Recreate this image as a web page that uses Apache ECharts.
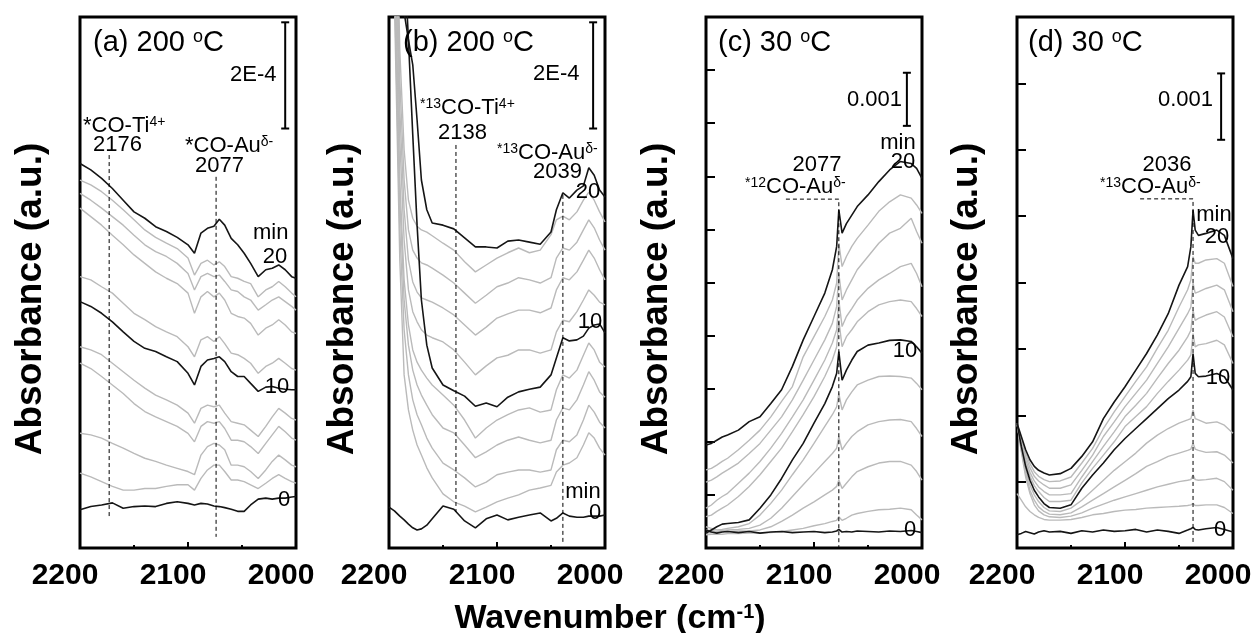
<!DOCTYPE html>
<html>
<head>
<meta charset="utf-8">
<script src="https://cdn.jsdelivr.net/npm/echarts/dist/echarts.min.js"></script>
<style>
html,body{margin:0;padding:0;background:#fff;}
#chart{width:1256px;height:633px;}
</style>
</head>
<body>
<div id="chart"></div>
<script>
// ---------------- DATA ----------------
// time labels of the spectra (min); black at 0, 10, 20
const timesMin = [0, 2, 4, 6, 8, 10, 12, 14, 16, 18, 20];
const xTickLabels = ['2200', '2100', '2000'];

// Panel (a) 200 oC  (absorbance in units of 1e-4)
const wnA = [2200,2190,2180,2170,2160,2150,2140,2130,2120,2110,2100,2094,2088,2082,2076,2071,2066,2060,2054,2048,2042,2035,2028,2022,2016,2010,2004,2000];
const a0  = [0.72,0.78,0.81,0.85,0.75,0.78,0.79,0.78,0.84,0.87,0.84,0.81,0.84,0.83,0.79,0.78,0.76,0.73,0.69,0.69,0.81,0.92,0.94,0.92,0.94,0.94,0.96,0.97];
const a2  = [1.41,1.34,1.25,1.16,1.09,1.09,1.12,1.12,1.16,1.19,1.19,1.09,1.31,1.47,1.56,1.56,1.44,1.28,1.28,1.25,1.19,1.12,1.22,1.31,1.38,1.31,1.25,1.22];
const a4  = [2.16,2.13,2.07,1.97,1.88,1.78,1.69,1.63,1.56,1.50,1.44,1.38,1.75,1.91,1.97,1.94,1.85,1.56,1.56,1.53,1.44,1.31,1.47,1.63,1.75,1.66,1.56,1.53];
const a6  = [3.48,3.38,3.23,3.07,2.91,2.72,2.57,2.47,2.38,2.29,2.16,2.00,2.29,2.38,2.35,2.38,2.25,2.03,2.03,2.00,1.91,1.78,1.97,2.13,2.29,2.19,2.07,2.03];
const a8  = [3.79,3.73,3.64,3.48,3.32,3.16,3.01,2.88,2.79,2.69,2.54,2.35,2.63,2.69,2.66,2.69,2.54,2.38,2.35,2.32,2.22,2.10,2.29,2.47,2.63,2.54,2.44,2.41];
const a10 = [4.64,4.55,4.42,4.26,4.07,3.89,3.76,3.70,3.60,3.51,3.29,3.07,3.42,3.54,3.57,3.60,3.51,3.32,3.23,3.23,3.10,2.95,3.03,3.04,3.01,2.99,2.98,2.98];
const a12 = [5.11,5.05,4.92,4.80,4.61,4.42,4.30,4.17,4.07,3.98,3.79,3.60,3.92,3.98,3.89,3.98,3.85,3.67,3.64,3.57,3.48,3.29,3.42,3.48,3.57,3.48,3.38,3.35];
const a14 = [6.40,6.24,6.08,5.89,5.71,5.52,5.36,5.20,5.08,4.98,4.80,4.42,4.73,4.83,4.73,4.80,4.67,4.42,4.36,4.33,4.23,4.01,4.14,4.20,4.30,4.20,4.07,4.04];
const a16 = [6.68,6.55,6.40,6.24,6.08,5.89,5.71,5.58,5.49,5.36,5.17,4.86,5.11,5.17,5.11,5.14,5.02,4.86,4.83,4.73,4.67,4.48,4.58,4.67,4.73,4.64,4.55,4.48];
const a18 = [6.93,6.84,6.71,6.55,6.37,6.18,5.99,5.85,5.74,5.64,5.46,5.14,5.36,5.42,5.33,5.39,5.30,5.11,5.08,5.02,4.98,4.73,4.86,4.92,5.02,4.92,4.80,4.73];
const a20 = [7.24,7.12,6.96,6.77,6.55,6.33,6.21,6.05,5.96,5.85,5.71,5.55,5.93,6.02,6.06,6.19,6.08,5.83,5.71,5.55,5.36,5.11,5.24,5.27,5.33,5.24,5.11,5.08];

// Panel (b) 200 oC  (units of 1e-4)
const wnB = [2200,2195,2190,2186,2182,2178,2174,2170,2165,2160,2150,2140,2130,2120,2110,2100,2090,2080,2070,2060,2050,2045,2039,2033,2026,2020,2015,2010,2005,2000];
const b0  = [0.77,0.70,0.60,0.53,0.45,0.38,0.34,0.36,0.43,0.55,0.79,0.73,0.51,0.38,0.55,0.62,0.53,0.58,0.62,0.66,0.51,0.56,0.66,0.60,0.58,0.58,0.60,0.60,0.60,0.62];
const b2  = [13.14,10.32,5.42,3.26,2.60,2.22,1.94,1.75,1.51,1.32,1.02,0.87,0.79,0.68,0.77,0.87,0.94,1.00,1.09,1.13,1.18,1.43,1.56,1.60,1.70,1.94,2.17,2.07,1.88,1.75];
const b4  = [14.09,10.70,5.99,4.11,3.26,2.79,2.51,2.32,2.07,1.88,1.60,1.47,1.32,1.15,1.24,1.38,1.43,1.47,1.47,1.43,1.47,1.85,2.03,2.00,2.13,2.41,2.69,2.56,2.37,2.26];
const b6  = [15.03,11.07,6.55,4.67,3.82,3.35,3.07,2.88,2.69,2.51,2.26,2.17,1.94,1.70,1.81,1.94,2.03,2.09,2.03,1.98,2.03,2.41,2.64,2.60,2.79,3.07,3.32,3.16,2.94,2.84];
const b8  = [15.97,11.45,6.93,5.05,4.20,3.73,3.50,3.35,3.20,3.07,2.88,2.69,2.41,2.07,2.26,2.41,2.51,2.60,2.64,2.56,2.60,2.98,3.26,3.20,3.35,3.63,3.86,3.73,3.50,3.41];
const b10 = [27.27,21.62,14.09,11.22,9.57,7.78,6.08,4.67,3.82,3.39,3.07,2.96,2.86,2.67,2.73,2.66,2.84,2.94,2.99,3.03,3.26,3.58,3.96,3.90,3.92,3.99,4.14,4.20,4.22,4.05];
const b12 = [16.91,12.20,7.68,5.80,4.86,4.45,4.26,4.11,4.01,3.96,3.88,3.73,3.50,3.26,3.43,3.58,3.63,3.73,3.73,3.67,3.73,4.07,4.29,4.26,4.45,4.67,4.86,4.76,4.63,4.58];
const b14 = [17.85,12.77,8.25,6.37,5.42,5.01,4.82,4.71,4.67,4.63,4.52,4.39,4.20,4.01,4.16,4.33,4.41,4.48,4.48,4.43,4.52,4.86,5.09,5.05,5.20,5.42,5.61,5.46,5.24,5.05];
const b16 = [18.79,13.33,8.81,6.93,5.99,5.61,5.46,5.37,5.33,5.27,5.14,4.99,4.80,4.61,4.76,4.92,4.99,5.09,5.05,4.99,5.09,5.46,5.65,5.61,5.76,5.99,6.18,6.03,5.80,5.61];
const b18 = [19.74,14.09,9.38,7.50,6.55,6.21,6.06,5.99,5.95,5.88,5.74,5.61,5.39,5.20,5.33,5.46,5.56,5.65,5.56,5.61,5.90,6.18,6.25,6.18,6.33,6.55,6.70,6.55,6.33,6.14];
const b20 = [13.14,12.01,10.88,10.09,9.57,9.10,8.06,6.93,6.37,6.12,6.08,6.01,5.84,5.67,5.67,5.65,5.78,5.80,5.76,5.72,5.95,6.37,6.69,6.59,6.74,6.82,7.16,7.02,6.74,6.61];

// Panel (c) 30 oC  (units of 1e-3)
const wnC = [2200,2195,2190,2185,2180,2170,2160,2150,2140,2130,2120,2110,2100,2090,2083,2079,2077,2074,2070,2065,2060,2050,2040,2030,2020,2010,2005,2000];
const c0  = [0.34,0.30,0.28,0.30,0.31,0.29,0.31,0.28,0.30,0.31,0.29,0.30,0.31,0.29,0.30,0.32,0.35,0.30,0.31,0.30,0.32,0.31,0.30,0.32,0.31,0.33,0.31,0.29];
const c2  = [0.25,0.26,0.26,0.26,0.27,0.27,0.28,0.28,0.29,0.31,0.34,0.37,0.42,0.46,0.50,0.52,0.59,0.52,0.56,0.62,0.65,0.69,0.72,0.73,0.75,0.72,0.62,0.53];
const c4  = [0.28,0.29,0.30,0.31,0.31,0.32,0.32,0.34,0.40,0.50,0.62,0.75,0.87,1.00,1.09,1.16,1.28,1.12,1.22,1.34,1.44,1.53,1.60,1.63,1.63,1.56,1.44,1.28];
const c6  = [0.34,0.33,0.31,0.33,0.34,0.35,0.37,0.43,0.56,0.75,0.97,1.19,1.41,1.63,1.78,1.88,2.10,1.85,1.97,2.10,2.19,2.32,2.38,2.41,2.42,2.38,2.25,2.10];
const c8  = [0.40,0.37,0.34,0.35,0.37,0.40,0.46,0.62,0.84,1.09,1.38,1.66,1.97,2.29,2.51,2.66,2.91,2.60,2.79,2.94,3.07,3.16,3.23,3.24,3.23,3.20,3.10,2.98];
const c10 = [0.28,0.34,0.40,0.45,0.46,0.48,0.53,0.75,1.00,1.31,1.66,1.97,2.35,2.72,3.04,3.29,3.70,3.16,3.35,3.54,3.70,3.82,3.86,3.91,3.92,3.89,3.79,3.67];
const c12 = [0.59,0.62,0.69,0.75,0.81,0.97,1.16,1.38,1.63,1.88,2.19,2.51,2.85,3.23,3.54,3.79,4.29,3.79,3.98,4.11,4.26,4.45,4.58,4.64,4.67,4.64,4.51,4.36];
const c14 = [0.75,0.81,0.90,0.97,1.03,1.22,1.41,1.63,1.88,2.16,2.47,2.79,3.16,3.54,3.86,4.11,4.67,4.17,4.36,4.51,4.67,4.89,5.05,5.17,5.30,5.36,5.17,4.92];
const c16 = [1.24,1.28,1.34,1.41,1.47,1.60,1.78,1.97,2.22,2.47,2.79,3.16,3.54,3.92,4.23,4.55,5.17,4.67,4.86,5.05,5.24,5.49,5.74,5.93,6.02,6.21,5.96,5.74];
const c18 = [1.47,1.50,1.56,1.63,1.69,1.85,2.03,2.22,2.47,2.76,3.04,3.60,3.98,4.36,4.67,4.99,5.74,5.30,5.49,5.68,5.83,6.08,6.34,6.52,6.65,6.59,6.46,6.30];
const c20 = [1.94,1.97,2.03,2.09,2.13,2.22,2.38,2.47,2.72,2.98,3.42,3.92,4.36,4.80,5.24,5.68,6.37,5.93,6.11,6.27,6.43,6.65,6.90,7.12,7.28,7.24,7.15,6.96];

// Panel (d) 30 oC  (units of 1e-3)
const wnD = [2200,2196,2192,2188,2184,2180,2175,2170,2160,2150,2140,2130,2120,2110,2100,2090,2080,2070,2060,2050,2042,2039,2037,2035,2032,2025,2015,2008,2000];
const d0  = [0.20,0.22,0.25,0.23,0.21,0.24,0.26,0.24,0.25,0.22,0.26,0.24,0.27,0.25,0.26,0.28,0.24,0.27,0.25,0.22,0.27,0.29,0.31,0.28,0.27,0.29,0.31,0.28,0.24];
const d2  = [0.82,0.72,0.62,0.55,0.50,0.46,0.43,0.42,0.42,0.43,0.46,0.50,0.52,0.55,0.57,0.58,0.60,0.61,0.62,0.63,0.64,0.65,0.67,0.64,0.64,0.65,0.65,0.61,0.52];
const d4  = [1.88,1.45,1.07,0.82,0.65,0.56,0.50,0.47,0.46,0.48,0.53,0.60,0.66,0.72,0.77,0.82,0.87,0.92,0.96,1.00,1.02,1.03,1.10,1.03,1.02,1.03,1.05,1.00,0.87];
const d6  = [1.88,1.48,1.12,0.87,0.72,0.62,0.55,0.51,0.50,0.53,0.62,0.72,0.82,0.92,1.02,1.12,1.23,1.30,1.38,1.43,1.47,1.49,1.58,1.49,1.47,1.44,1.45,1.40,1.28];
const d8  = [1.88,1.50,1.17,0.95,0.80,0.70,0.61,0.56,0.55,0.60,0.72,0.87,1.02,1.17,1.30,1.43,1.58,1.70,1.80,1.88,1.93,1.95,2.08,1.95,1.93,1.88,1.90,1.85,1.73];
const d10 = [1.88,1.53,1.23,1.02,0.87,0.77,0.67,0.61,0.60,0.65,0.90,1.10,1.28,1.48,1.65,1.80,1.95,2.10,2.25,2.38,2.51,2.58,2.93,2.63,2.58,2.59,2.63,2.58,2.38];
const d12 = [1.88,1.56,1.28,1.08,0.94,0.85,0.76,0.70,0.70,0.72,0.98,1.20,1.40,1.60,1.83,1.98,2.13,2.33,2.51,2.68,2.83,2.91,3.23,3.03,3.06,3.08,3.13,3.06,2.78];
const d14 = [1.88,1.59,1.33,1.14,1.01,0.92,0.85,0.80,0.80,0.82,1.07,1.30,1.53,1.75,1.98,2.15,2.33,2.56,2.78,2.98,3.18,3.28,3.58,3.43,3.46,3.51,3.56,3.48,3.18];
const d16 = [1.88,1.62,1.38,1.21,1.08,1.01,0.95,0.90,0.90,0.95,1.17,1.40,1.68,1.90,2.13,2.33,2.53,2.78,3.03,3.31,3.53,3.63,3.99,3.84,3.86,3.91,3.96,3.89,3.56];
const d18 = [1.88,1.65,1.43,1.27,1.15,1.08,1.03,1.00,1.01,1.07,1.28,1.50,1.80,2.05,2.28,2.51,2.73,3.01,3.28,3.63,3.89,4.04,4.39,4.29,4.29,4.34,4.36,4.29,3.94];
const d20 = [1.88,1.68,1.48,1.33,1.23,1.17,1.13,1.10,1.12,1.20,1.38,1.60,1.95,2.20,2.43,2.68,2.93,3.21,3.53,3.96,4.24,4.54,5.09,4.79,4.71,4.74,4.79,4.71,4.36];

// dashed peak markers [wavenumber, absorbance] points
const dashA1 = [[2173, 7.40], [2173, 0.58]];
const dashA2 = [[2074, 6.99], [2074, 0.21]];
const dashB1 = [[2138, 7.59], [2138, 0.68]];
const dashB2 = [[2039, 6.65], [2039, 0.06]];
const dashC1 = [[2126, 6.57], [2077, 6.57], [2077, 0.02]];
const dashD1 = [[2086, 5.26], [2037, 5.26], [2037, 0.05]];

// scale bars [wavenumber, low, high]
const barA = [2010, 7.9, 9.9];
const barB = [2011, 7.9, 9.9];
const barC = [2014, 7.95, 8.95];
const barD = [2011, 6.15, 7.15];

// ---------------- CHART ----------------
const FAM = '"Liberation Sans", Arial, Helvetica, sans-serif';
const panels = [
  {wn: wnA, curves: [a0,a2,a4,a6,a8,a10,a12,a14,a16,a18,a20], dashes: [dashA1, dashA2], bar: barA, ymax: 10, ticks: false, left: 80},
  {wn: wnB, curves: [b0,b2,b4,b6,b8,b10,b12,b14,b16,b18,b20], dashes: [dashB1, dashB2], bar: barB, ymax: 10, ticks: false, left: 389},
  {wn: wnC, curves: [c0,c2,c4,c6,c8,c10,c12,c14,c16,c18,c20], dashes: [dashC1], bar: barC, ymax: 10, ticks: true, left: 706},
  {wn: wnD, curves: [d0,d2,d4,d6,d8,d10,d12,d14,d16,d18,d20], dashes: [dashD1], bar: barD, ymax: 8, ticks: true, left: 1017}
];

const grid = [], xAxis = [], yAxis = [], series = [];
panels.forEach((p, i) => {
  grid.push({left: p.left, top: 17, width: 216, height: 531, show: true, borderColor: '#000', borderWidth: 3, backgroundColor: 'transparent'});
  xAxis.push({
    gridIndex: i, type: 'value', min: 2000, max: 2200, interval: 100, inverse: true,
    axisLine: {show: false},
    axisTick: {show: true, inside: true, length: 6, lineStyle: {color: '#000', width: 2}},
    minorTick: {show: true, splitNumber: 2, length: 3, lineStyle: {color: '#000', width: 2}},
    splitLine: {show: false}, minorSplitLine: {show: false},
    axisLabel: {
      show: true, margin: 13, fontSize: 30, fontWeight: 'bold', fontFamily: FAM, color: '#000',
      padding: [0, 30, 0, 0],
      formatter: v => xTickLabels.indexOf(String(v)) >= 0 ? String(v) : ''
    }
  });
  yAxis.push({
    gridIndex: i, type: 'value', min: 0, max: p.ymax, interval: 1,
    axisLine: {show: false},
    axisTick: {show: p.ticks, inside: true, length: 9, lineStyle: {color: '#000', width: 2}},
    axisLabel: {show: false}, splitLine: {show: false}
  });
  p.curves.forEach((cv, j) => {
    const t = timesMin[j];
    const black = (t % 10 === 0);
    series.push({
      type: 'line', name: 'p' + i + '_' + t + 'min', xAxisIndex: i, yAxisIndex: i,
      data: p.wn.map((w, k) => [w, cv[k]]),
      showSymbol: false, symbol: 'none', silent: true, clip: true,
      lineStyle: {color: black ? '#151515' : '#bababa', width: black ? 1.6 : 1.4},
      z: black ? 4 : 3
    });
  });
  p.dashes.forEach(d => {
    series.push({
      type: 'line', xAxisIndex: i, yAxisIndex: i, data: d, showSymbol: false, symbol: 'none', silent: true,
      lineStyle: {color: '#000', width: 1, type: [4, 3]}, z: 5
    });
  });
  series.push({
    type: 'custom', xAxisIndex: i, yAxisIndex: i, data: [p.bar], silent: true, z: 6,
    encode: {x: 0, y: [1, 2]},
    renderItem: (params, api) => {
      const lo = api.coord([api.value(0), api.value(1)]);
      const hi = api.coord([api.value(0), api.value(2)]);
      const h = 4;
      const st = {stroke: '#000', lineWidth: 2};
      return {type: 'group', children: [
        {type: 'line', shape: {x1: lo[0], y1: lo[1], x2: hi[0], y2: hi[1]}, style: st},
        {type: 'line', shape: {x1: lo[0] - h, y1: lo[1], x2: lo[0] + h, y2: lo[1]}, style: st},
        {type: 'line', shape: {x1: hi[0] - h, y1: hi[1], x2: hi[0] + h, y2: hi[1]}, style: st}
      ]};
    }
  });
});

// text annotations
const notes = [
  {t: '(a) 200 {s|o}C', x: 93, y: 43, size: 29},
  {t: '*CO-Ti{s|4+}', x: 83, y: 126},
  {t: '2176', x: 93, y: 145},
  {t: '*CO-Au{s|δ-}', x: 185, y: 146},
  {t: '2077', x: 195, y: 166},
  {t: '2E-4', x: 230, y: 75},
  {t: 'min', x: 253, y: 233},
  {t: '20', x: 275, y: 257, a: 'center'},
  {t: '10', x: 277, y: 387, a: 'center'},
  {t: '0', x: 284, y: 500, a: 'center'},

  {t: '(b) 200 {s|o}C', x: 403, y: 43, size: 29},
  {t: '{s|*13}CO-Ti{s|4+}', x: 420, y: 108},
  {t: '2138', x: 438, y: 133},
  {t: '{s|*13}CO-Au{s|δ-}', x: 497, y: 153},
  {t: '2039', x: 533, y: 172},
  {t: '2E-4', x: 533, y: 74},
  {t: '20', x: 588, y: 192, a: 'center'},
  {t: '10', x: 590, y: 322, a: 'center'},
  {t: 'min', x: 583, y: 492, a: 'center'},
  {t: '0', x: 595, y: 513, a: 'center'},

  {t: '(c) 30 {s|o}C', x: 718, y: 43, size: 29},
  {t: '0.001', x: 902, y: 100, a: 'right'},
  {t: 'min', x: 898, y: 143, a: 'center'},
  {t: '20', x: 903, y: 162, a: 'center'},
  {t: '2077', x: 817, y: 165, a: 'center'},
  {t: '{s|*12}CO-Au{s|δ-}', x: 745, y: 187},
  {t: '10', x: 905, y: 351, a: 'center'},
  {t: '0', x: 910, y: 530, a: 'center'},

  {t: '(d) 30 {s|o}C', x: 1028, y: 43, size: 29},
  {t: '0.001', x: 1213, y: 100, a: 'right'},
  {t: '2036', x: 1167, y: 165, a: 'center'},
  {t: '{s|*13}CO-Au{s|δ-}', x: 1100, y: 187},
  {t: 'min', x: 1214, y: 215, a: 'center'},
  {t: '20', x: 1217, y: 237, a: 'center'},
  {t: '10', x: 1218, y: 378, a: 'center'},
  {t: '0', x: 1220, y: 530, a: 'center'}
];

const graphic = notes.map(n => {
  const size = n.size || 22;
  return {
    type: 'text', x: n.x, y: n.y, z: 100, silent: true,
    style: {
      text: n.t, fontSize: size, fontFamily: FAM, fill: '#000',
      align: n.a || 'left', verticalAlign: 'middle',
      rich: {s: {fontSize: Math.round(size * 0.62), fontFamily: FAM, fill: '#000', verticalAlign: 'top'}}
    }
  };
});
[31, 343, 657, 967].forEach(x => {
  graphic.push({
    type: 'text', x: x, y: 299, rotation: Math.PI / 2, z: 100, silent: true,
    style: {text: 'Absorbance (a.u.)', fontSize: 37, fontWeight: 'bold', fontFamily: FAM, fill: '#000', align: 'center', verticalAlign: 'middle'}
  });
});
graphic.push({
  type: 'text', x: 610, y: 619, z: 100, silent: true,
  style: {
    text: 'Wavenumber (cm{s|-1})', fontSize: 34, fontWeight: 'bold', fontFamily: FAM, fill: '#000',
    align: 'center', verticalAlign: 'middle',
    rich: {s: {fontSize: 20, fontWeight: 'bold', fontFamily: FAM, fill: '#000', verticalAlign: 'top'}}
  }
});

const chart = echarts.init(document.getElementById('chart'), null, {renderer: 'canvas'});
chart.setOption({
  animation: false,
  backgroundColor: '#fff',
  grid: grid, xAxis: xAxis, yAxis: yAxis, series: series, graphic: graphic
});
</script>
</body>
</html>
